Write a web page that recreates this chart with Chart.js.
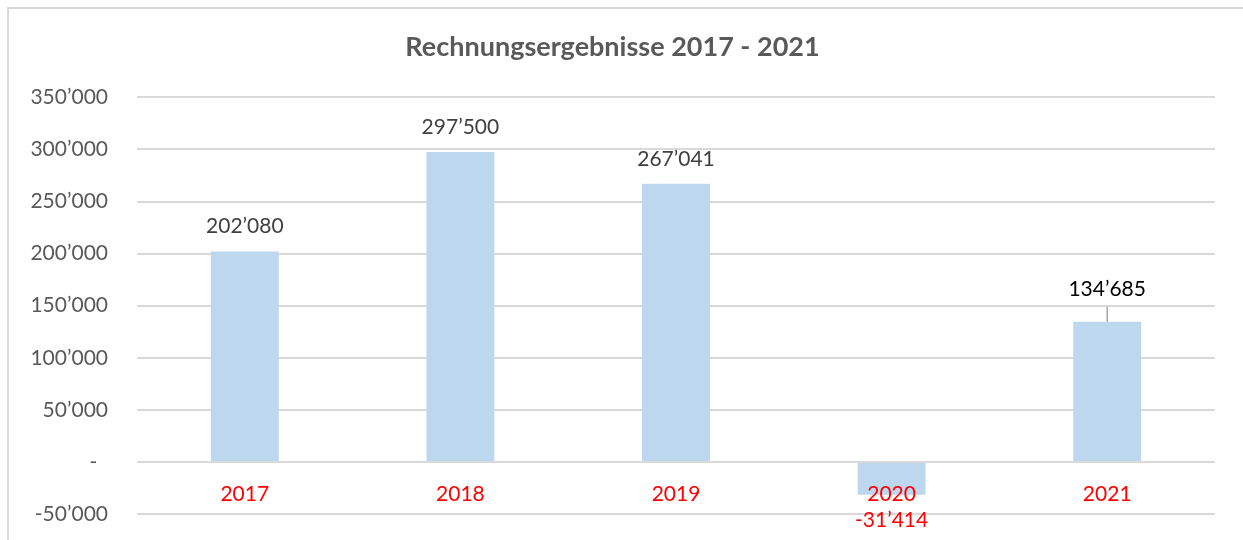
<!DOCTYPE html>
<html>
<head>
<meta charset="utf-8">
<script src="https://cdn.jsdelivr.net/npm/chart.js@4/dist/chart.umd.min.js"></script>
<style>
  html, body { margin: 0; padding: 0; background: #fff; overflow: hidden; }
  #wrap { position: relative; width: 1243px; height: 540px; }
  #frame { position: absolute; left: 7px; top: 7px; width: 1300px; height: 600px; border: 2px solid #d9d9d9; }
  #chart { position: absolute; left: 0; top: 0; }
</style>
</head>
<body>
<div id="wrap">
  <div id="frame"></div>
  <canvas id="chart" width="1243" height="540"></canvas>
</div>
<script>
// Rechnungsergebnisse per Jahr (CHF)
const years = ['2017', '2018', '2019', '2020', '2021'];
const results = [202080, 297500, 267041, -31414, 134685];
const yTicks = [-50000, 0, 50000, 100000, 150000, 200000, 250000, 300000, 350000];

// label colours and which label gets a leader line
const labelColors = ['#404040', '#404040', '#404040', '#ff0000', '#000000'];
const labelLeader = [false, false, false, false, true];

const fontFamily = 'Lato, "Open Sans", sans-serif';

// 1234567 -> 1'234'567, 0 -> "-"
function fmt(n) {
  if (n === 0) return '-  ';
  const s = Math.abs(n).toString().replace(/\B(?=(\d{3})+(?!\d))/g, '\u2019');
  return (n < 0 ? '-' : '') + s;
}

// draws the value above (or below) each bar
const valueLabels = {
  id: 'valueLabels',
  afterDatasetsDraw(chart) {
    const ctx = chart.ctx;
    const meta = chart.getDatasetMeta(0);
    ctx.save();
    ctx.font = '21px ' + fontFamily;
    ctx.textAlign = 'center';
    ctx.textBaseline = 'middle';
    meta.data.forEach((bar, i) => {
      const v = results[i];
      let ty;
      if (v >= 0) {
        ty = bar.y - (labelLeader[i] ? 32 : 25);
        if (labelLeader[i]) {
          ctx.strokeStyle = '#a6a6a6';
          ctx.lineWidth = 1.5;
          ctx.beginPath();
          ctx.moveTo(bar.x, bar.y);
          ctx.lineTo(bar.x, bar.y - 15);
          ctx.stroke();
        }
      } else {
        ty = bar.y + 26;
      }
      ctx.fillStyle = labelColors[i];
      ctx.fillText(fmt(v), bar.x, ty);
    });
    ctx.restore();
  }
};

const ctx = document.getElementById('chart').getContext('2d');
const resultChart = new Chart(ctx, {
  type: 'bar',
  data: {
    labels: years,
    datasets: [{
      data: results,
      backgroundColor: '#bdd7ee',
      borderWidth: 0,
      barPercentage: 0.63,
      categoryPercentage: 0.5
    }]
  },
  options: {
    responsive: false,
    animation: false,
    layout: { padding: { left: 10, right: 28, top: 0, bottom: 26 } },
    plugins: {
      legend: { display: false },
      tooltip: { enabled: false },
      title: {
        display: true,
        text: 'Rechnungsergebnisse 2017 - 2021',
        color: '#595959',
        font: { family: fontFamily, size: 27, weight: 'bold' },
        padding: { top: 31, bottom: 34 }
      }
    },
    scales: {
      x: {
        position: { y: 0 },
        afterFit(scale) { scale.height = 0; },
        grid: { display: false },
        border: { display: false },
        ticks: {
          z: 1, // year labels sit on top of the negative bar
          color: '#ff0000',
          padding: 12,
          font: { family: fontFamily, size: 21 }
        }
      },
      y: {
        min: yTicks[0],
        max: yTicks[yTicks.length - 1],
        afterFit(scale) { scale.width = 127; },
        afterBuildTicks(scale) { scale.ticks = yTicks.map(v => ({ value: v })); },
        grid: { color: '#d9d9d9', lineWidth: 2, drawTicks: true, tickLength: 26, tickColor: 'rgba(0,0,0,0)' },
        border: { display: false },
        ticks: {
          color: '#595959',
          padding: 3,
          font: { family: fontFamily, size: 21 },
          callback: v => fmt(v)
        }
      }
    }
  },
  plugins: [valueLabels]
});
</script>
</body>
</html>
